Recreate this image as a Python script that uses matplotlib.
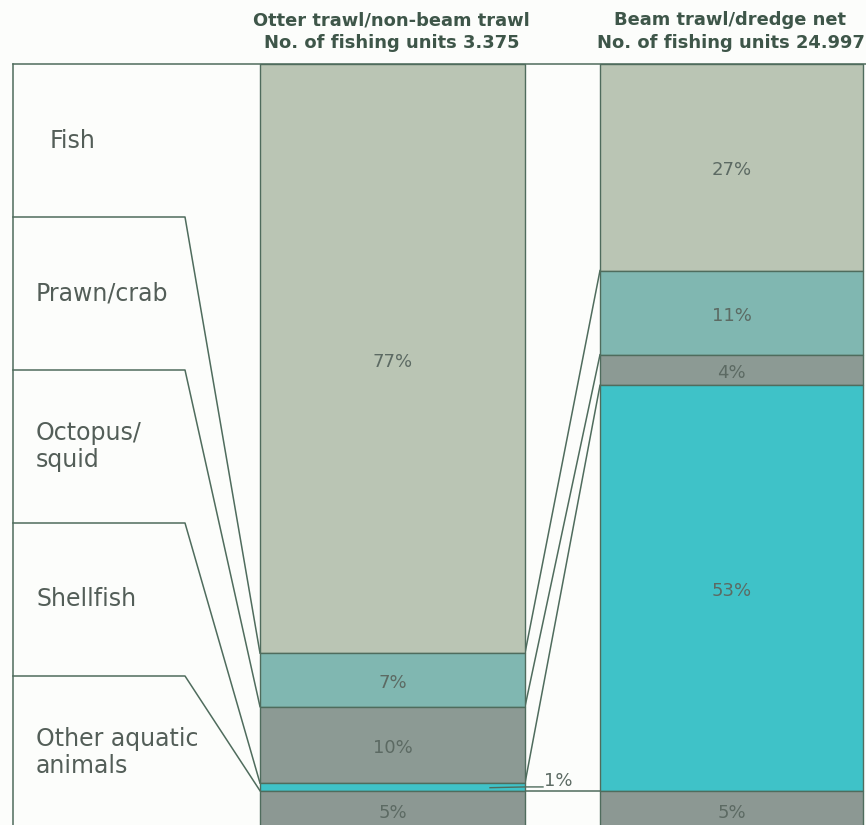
import numpy as np
import matplotlib.pyplot as plt

# catch composition by gear type (% of landings)
categories = ['Fish', 'Prawn/crab', 'Octopus/squid', 'Shellfish', 'Other aquatic animals']
box_labels = ['Fish', 'Prawn/crab', 'Octopus/\nsquid', 'Shellfish', 'Other aquatic\nanimals']
gears = ['Otter trawl/non-beam trawl', 'Beam trawl/dredge net']
fishing_units = ['3.375', '24.997']
otter_share = [77, 7, 10, 1, 5]
beam_share = [27, 11, 4, 53, 5]

seg_colors = ['#bac5b4', '#80b7b1', '#8c9a94', '#3fc2c8', '#8c9893']
line_col = '#4f6c5d'
text_col = '#535e58'
pct_col = '#5c6a63'
head_col = '#3e5649'
bg = '#fcfdfb'

# layout (pixel-like x units, percent on y)
px_per_pct = 7.65
top_px = 64
bar_x = [392.5, 731.5]
bar_w = [265, 263]
frame_x = 13
box_right = 185
label_x = [50, 36, 36, 36, 36]

fig = plt.figure(figsize=(8.66, 8.25), dpi=100, facecolor=bg)
ax = fig.add_axes([0, 0, 1, 1])
ax.set_facecolor(bg)
ax.set_xlim(0, 866)
ax.set_ylim((825 - top_px) / px_per_pct, -top_px / px_per_pct)
ax.axis('off')

shares = [otter_share, beam_share]
bounds = []
for i, share in enumerate(shares):
    share = np.array(share)
    bottoms = np.concatenate([[0], np.cumsum(share)[:-1]])
    bounds.append(np.cumsum(share))
    ax.bar(bar_x[i], share, bottom=bottoms, width=bar_w[i], color=seg_colors,
           edgecolor=line_col, linewidth=1.0, zorder=2)
    for v, b in zip(share, bottoms):
        if v < 2:
            continue
        ax.text(bar_x[i], b + v / 2 + 0.4, f'{v}%', ha='center', va='center',
                fontsize=13, color=pct_col, zorder=3)
    head = f'{gears[i]}\nNo. of fishing units {fishing_units[i]}'
    ax.text(bar_x[i] - 1, -4.2, head, ha='center', va='center', fontsize=12.9,
            fontweight='bold', color=head_col, linespacing=1.35)

left_edge = bar_x[0] - bar_w[0] / 2
left_right = bar_x[0] + bar_w[0] / 2
right_left = bar_x[1] - bar_w[1] / 2

# left label boxes
n = len(categories)
box_h = 100 / n
ax.plot([frame_x, frame_x], [0, 100], color=line_col, lw=1.1)
ax.plot([frame_x, 866], [0, 0], color=line_col, lw=1.1)
for k in range(n):
    ax.text(label_x[k], box_h * (k + 0.5), box_labels[k], ha='left', va='center',
            fontsize=17, color=text_col, linespacing=1.15)
    if k > 0:
        y0 = box_h * k
        ax.plot([frame_x, box_right, left_edge], [y0, y0, bounds[0][k - 1]],
                color=line_col, lw=1.1, zorder=1)

# connectors between the two bars
for k in range(n - 1):
    ax.plot([left_right, right_left], [bounds[0][k], bounds[1][k]],
            color=line_col, lw=1.1, zorder=1)

# small segment label
small = otter_share[3]
y_small = bounds[0][2] + small / 2
ax.plot([left_right - 35, left_right, left_right + 18], [y_small + 0.1, y_small, y_small],
        color=line_col, lw=1.0, zorder=3)
ax.text(left_right + 19, y_small - 0.8, f'{small}%', ha='left', va='center',
        fontsize=13, color=pct_col)

fig.savefig('out.png', dpi=100, facecolor=bg)
